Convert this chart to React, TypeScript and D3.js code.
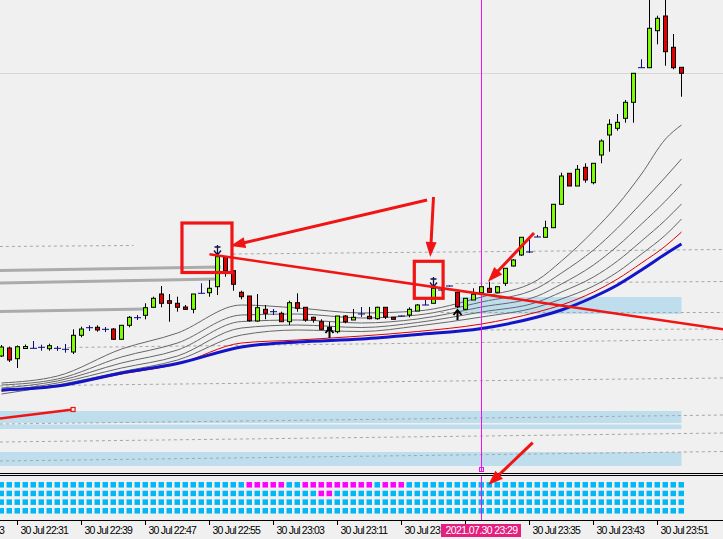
import React from 'react';
import * as d3 from 'd3';

const W = 723;
const H = 539;

// ---- Candles: bar index 0 = 30 Jul 22:29, 1-minute bars (price units) ----
const opens = [144,152,141.3,151.5,151.7,152.7,151.3,151.7,150.7,148,164.7,172.3,172.7,170.7,171,160.7,174.7,182.3,184.7,192.7,206,199.3,196.7,193,190.7,206.7,207.3,213.3,243,229.3,207.7,204,179,190.7,188.3,186.7,178.3,197.3,192.7,182.7,178.3,172.7,168.3,184,180,186,183.7,181.3,192.7,182.7,184,185,189,195,196.7,210,214,207.7,190.7,200,207.3,211.7,207.7,216.7,234,245,248,263,262.7,272.3,295.7,326.7,314,332.7,317.3,345,365,371.7,381.7,397.7,432.3,432.3,469.3,484,452.7,432.7];
const highs = [155,153.5,154.5,155.5,159,155.3,156.3,154,156,170.7,173.3,174.7,174.7,173,172,175,184,185,196.7,203.3,214,206,203.3,195,206,216.7,220,250,244,229.3,209.3,204,206,195,191,188.3,199.3,206.7,192.7,183.3,180.7,178.3,184,185,191,193,193,193.3,193,183,184.5,192.7,196,200.7,212.5,211,214.5,208.3,202,211.7,213.3,218.3,214,231.7,241,262.7,262,265,279.3,296,327.3,327,335,336.7,337,360.7,380.7,386,400,427,440.7,505,484.3,505,466,433];
const lows = [143,138,132,151,151.7,149.3,149.3,149,147.3,146,162.7,169,168.3,168,160,160,172.7,180,180.7,192.3,192.7,178.3,188.3,190,186.7,206.7,203.3,205,223.3,209.3,200.7,178.3,178.3,180.7,185,178.3,175,188.3,178.3,177.3,170,168.3,166.7,176.7,180,183,180.7,180.3,181,180.3,183.5,182.7,189,195,196.7,209,213.5,192,190,200,207,207.5,207.5,214,233.5,244,247,263,262.7,272,295.7,314,314,317.3,315.7,336.7,348.3,369.3,377.3,377.3,432.3,432.3,455.7,434.3,430.7,403.3];
const closes = [153,140,153.3,153.5,151.7,152.7,154.3,151.7,150.7,164.7,171,172.3,170,170.7,160.7,174.7,182.7,182.3,192.3,201.7,196.7,196.7,192.7,190.7,206,206.7,211.7,243.3,229.3,215.7,203.3,179.3,192.3,186.7,188.3,178.3,197.3,191.7,180,180,170.7,169.3,184,178.3,182.7,186,181.3,192.7,183,180.7,184,190.7,195,195,211.7,210,214,193.3,201.7,205.7,213.3,207.7,213.3,231.7,240,262.7,248,263,272.3,295.7,324,314,330.7,320,336.7,359,375.7,377.7,397.7,426.7,432.3,471.7,481.7,448.3,432.3,426.7];

// ---- Moving averages sampled at these bars ----
const maBars = [0, 7, 15, 22, 30, 37, 45, 52, 60, 67, 70, 74, 77, 80, 83, 85];
const maGray1 = [117, 124, 151, 167, 195, 192, 187, 189, 203, 220, 239, 269, 295, 326, 361, 375];
const maGray2 = [115, 121, 143, 157, 185, 186, 182, 185, 198, 212, 227, 250, 272, 297, 323, 341];
const maGray3 = [112, 119, 137, 150, 178.5, 180, 177, 181, 193, 204, 216, 235, 254, 276, 299, 316];
const maGray4 = [109, 117, 132, 144, 172, 175, 172.5, 177.5, 188, 198, 208, 223, 239, 259, 280, 296];
const maGray5 = [106, 115, 128.3, 140, 165, 170, 168.5, 174, 183, 193, 201, 214, 228, 246, 265, 281];
const maRed = [109, 114, 126, 136, 157, 160, 164, 168.5, 176, 188, 195, 208, 221, 237, 254, 268];
const maBlue = [110, 114, 127, 136.5, 153, 158, 161, 165.5, 171.5, 183, 190, 203, 215, 230, 246, 256];

// ---- Fractals (bar, tip price) ----
const fractalDown = [[27, 245], [54, 213]];
const fractalUp = [[41, 172], [57, 190]];

// ---- Objects: [bar1, price1, bar2, price2] ----
const dashedLevels = [
  [-0.2, 253.5, 16.5, 254.5],
  [28.9, 246, 90.3, 250.5],
  [56.75, 216.5, 90.3, 218.5],
  [54.9, 187.5, 90.3, 187.5],
  [57.4, 170, 90.3, 171],
  [8.25, 152.5, 90.3, 160.5],
  [-0.2, 114, 90.3, 122],
  [-0.2, 76, 90.3, 85],
  [-0.2, 58, 90.3, 67],
  [-0.2, 39, 90.3, 48.5],
];
const grayLevels = [
  [-0.2, 229.5, 27.4, 233],
  [-0.2, 217, 27.1, 221],
  [-0.2, 188.5, 18, 191],
];
// zones: [bar1, bar2, priceTop, priceBottom]
const zones = [
  [-0.2, 85, 89, 77],
  [-0.2, 85, 75.5, 71],
  [-0.2, 85, 48, 34],
  [57, 85, 203, 186],
];
const solidLevel = 427;
const redTrend = [26, 245.7, 90.3, 170.7];
const redSegment = [-0.2, 81.5, 8.95, 90.5];
const redRects = [
  [22.56, 28.81, 277, 227.5],
  [51.6, 55.2, 238.7, 201.7],
];
const redArrows = [
  [53.2, 300, 28.6, 254],
  [54, 303, 53.6, 243],
  [66.56, 267, 60.8, 218.3],
  [66.4, 57.3, 60.85, 15],
];
const crossBar = 60;
const crossLabel = '2021.07.30 23:29';

// ---- Time axis (the 23:27 label sits under the crosshair label) ----
const tickBars = [-6, 2, 10, 18, 26, 34, 42, 50, 58, 66, 74, 82];
const tickLabels = ['30 Jul 22:23', '30 Jul 22:31', '30 Jul 22:39', '30 Jul 22:47', '30 Jul 22:55', '30 Jul 23:03', '30 Jul 23:11', '30 Jul 23:19', '', '30 Jul 23:35', '30 Jul 23:43', '30 Jul 23:51'];

// ---- Sub-window signal grid: bars shown in magenta per row ----
const signalRows = [
  [31, 32, 33, 34, 35, 38, 39, 40, 41, 42, 43, 44, 45, 46, 48, 49, 50],
  [40, 41],
  [],
  [],
];

export default function App() {
  const x = d3.scaleLinear().domain([0, 85]).range([1.5, 681.5]);
  const y = d3.scaleLinear().domain([0, 500]).range([500, 0]);
  const rowY = d3.scalePoint<number>().domain([0, 1, 2, 3]).range([484.8, 510.8]);

  const maLine = d3
    .line<number>()
    .x((_, i) => x(maBars[i]))
    .y((d) => y(d))
    .curve(d3.curveMonotoneX);

  const grays = [maGray1, maGray2, maGray3, maGray4, maGray5];
  const crossX = x(crossBar);
  const boxL = crossX - 40.5;
  const magenta = '#f010f0';

  const arrow = (a: number[], key: string) => {
    const x1 = x(a[0]), y1 = y(a[1]), x2 = x(a[2]), y2 = y(a[3]);
    const dx = x2 - x1, dy = y2 - y1;
    const len = Math.hypot(dx, dy);
    const ux = dx / len, uy = dy / len;
    const hl = 15, hw = 5.5;
    const bx = x2 - ux * hl, by = y2 - uy * hl;
    const px = -uy, py = ux;
    const head = `M${x2},${y2}L${bx + px * hw},${by + py * hw}L${bx - px * hw},${by - py * hw}Z`;
    return (
      <g key={key}>
        <line x1={x1} y1={y1} x2={bx + ux * 2} y2={by + uy * 2} stroke="#f01414" strokeWidth={3} />
        <path d={head} fill="#f01414" />
      </g>
    );
  };

  return (
    <svg
      width={W}
      height={H}
      style={{ position: 'absolute', left: 0, top: 0, display: 'block' }}
      fontFamily="'Liberation Sans', Arial, sans-serif"
    >
      <defs>
        <clipPath id="mainClip">
          <rect x={0} y={0} width={W} height={472} />
        </clipPath>
        <clipPath id="labelClip">
          <rect x={0} y={520} width={boxL} height={19} />
        </clipPath>
      </defs>
      <rect x={0} y={0} width={W} height={H} fill="#f0f0f0" />

      <g clipPath="url(#mainClip)">
        {zones.map((z, i) => (
          <rect key={'z' + i} x={x(z[0])} y={y(z[2])} width={x(z[1]) - x(z[0])} height={y(z[3]) - y(z[2])} fill="#bedeed" />
        ))}
        <line x1={0} x2={W} y1={Math.round(y(solidLevel)) + 0.5} y2={Math.round(y(solidLevel)) + 0.5} stroke="#d6d6d6" strokeWidth={1} />
        {dashedLevels.map((l, i) => (
          <line key={'d' + i} x1={x(l[0])} y1={y(l[1])} x2={x(l[2])} y2={y(l[3])} stroke="#a6a6a6" strokeWidth={1} strokeDasharray="3,3" />
        ))}
        {grayLevels.map((l, i) => (
          <line key={'g' + i} x1={x(l[0])} y1={y(l[1])} x2={x(l[2])} y2={y(l[3])} stroke="#ababab" strokeWidth={3} />
        ))}
        {grays.map((s, i) => (
          <path key={'ma' + i} d={maLine(s) || ''} fill="none" stroke="#666" strokeWidth={1} />
        ))}
        <path d={maLine(maRed) || ''} fill="none" stroke="#e00000" strokeWidth={1} />
        <path d={maLine(maBlue) || ''} fill="none" stroke="#1414c8" strokeWidth={3} />

        <line x1={crossX} x2={crossX} y1={0} y2={472} stroke={magenta} strokeWidth={1} shapeRendering="crispEdges" />

        {opens.map((o, i) => {
          const c = closes[i];
          const cx = x(i);
          const doji = Math.abs(o - c) < 0.5;
          if (doji) {
            return (
              <g key={'c' + i} stroke="#0a0a78" strokeWidth={1}>
                <line x1={cx} x2={cx} y1={y(highs[i])} y2={y(lows[i])} />
                <line x1={cx - 3.5} x2={cx + 3.5} y1={y(o)} y2={y(o)} />
              </g>
            );
          }
          const top = y(Math.max(o, c));
          const bot = y(Math.min(o, c));
          return (
            <g key={'c' + i}>
              <line x1={cx} x2={cx} y1={y(highs[i])} y2={y(lows[i])} stroke="#000" strokeWidth={1} />
              <rect x={cx - 2} y={top} width={4} height={Math.max(1, bot - top)} fill={c > o ? '#7cfc00' : '#e00000'} stroke="#000" strokeWidth={1} />
            </g>
          );
        })}

        {fractalDown.map((f, i) => {
          const cx = x(f[0]), ty = y(f[1]);
          return (
            <path key={'fd' + i} d={`M${cx},${ty - 10}L${cx},${ty}M${cx - 3.5},${ty - 4.5}L${cx},${ty}L${cx + 3.5},${ty - 4.5}M${cx - 3},${ty - 8}L${cx + 3},${ty - 8}`} stroke="#10104a" strokeWidth={1.3} fill="none" />
          );
        })}
        {fractalUp.map((f, i) => {
          const cx = x(f[0]), ty = y(f[1]);
          return (
            <path key={'fu' + i} d={`M${cx},${ty + 10}L${cx},${ty}M${cx - 4},${ty + 5}L${cx},${ty}L${cx + 4},${ty + 5}`} stroke="#000" strokeWidth={2} fill="none" />
          );
        })}

        <line x1={x(redTrend[0])} y1={y(redTrend[1])} x2={x(redTrend[2])} y2={y(redTrend[3])} stroke="#f01414" strokeWidth={2.5} />
        <line x1={x(redSegment[0])} y1={y(redSegment[1])} x2={x(redSegment[2])} y2={y(redSegment[3])} stroke="#f01414" strokeWidth={2.5} />
        <rect x={x(redSegment[2]) - 2} y={y(redSegment[3]) - 2} width={4} height={4} fill="#f0f0f0" stroke="#f01414" strokeWidth={1.2} />
        {redRects.map((r, i) => (
          <rect key={'rr' + i} x={x(r[0])} y={y(r[2])} width={x(r[1]) - x(r[0])} height={y(r[3]) - y(r[2])} fill="none" stroke="#f01414" strokeWidth={3.2} />
        ))}
        {redArrows.slice(0, 3).map((a, i) => arrow(a, 'a' + i))}
        <rect x={crossX - 2} y={467.5} width={4} height={4} fill="none" stroke={magenta} strokeWidth={1} />
      </g>

      <line x1={0} x2={W} y1={473.5} y2={473.5} stroke="#000" strokeWidth={1} />
      <line x1={0} x2={W} y1={475.5} y2={475.5} stroke="#000" strokeWidth={1} />

      {signalRows.map((mag, r) =>
        opens.map((_, i) => (
          <rect
            key={'s' + r + '_' + i}
            x={x(i) - 3}
            y={(rowY(r) as number) - 2.75}
            width={5.5}
            height={5.5}
            fill={mag.includes(i) ? '#ff00ff' : '#00b8f5'}
          />
        ))
      )}
      <line x1={crossX} x2={crossX} y1={476} y2={520} stroke={magenta} strokeWidth={1} shapeRendering="crispEdges" />
      {arrow(redArrows[3], 'a3')}

      <line x1={0} x2={W} y1={520.5} y2={520.5} stroke="#000" strokeWidth={1} />
      {tickBars.map((b, i) => (
        <g key={'t' + i}>
          <line x1={x(b)} x2={x(b)} y1={521} y2={525} stroke="#000" strokeWidth={1} />
          {tickLabels[i] && (
            <text
              x={x(b) + 3}
              y={533.5}
              fontSize={10.5}
              letterSpacing={-0.8}
              fill="#000"
              clipPath={b === 50 ? 'url(#labelClip)' : undefined}
            >
              {tickLabels[i]}
            </text>
          )}
        </g>
      ))}
      <rect x={boxL} y={524} width={80} height={13} fill="#e3207f" />
      <text x={crossX} y={534} fontSize={10.5} letterSpacing={-0.6} fill="#fff" textAnchor="middle">
        {crossLabel}
      </text>
    </svg>
  );
}
